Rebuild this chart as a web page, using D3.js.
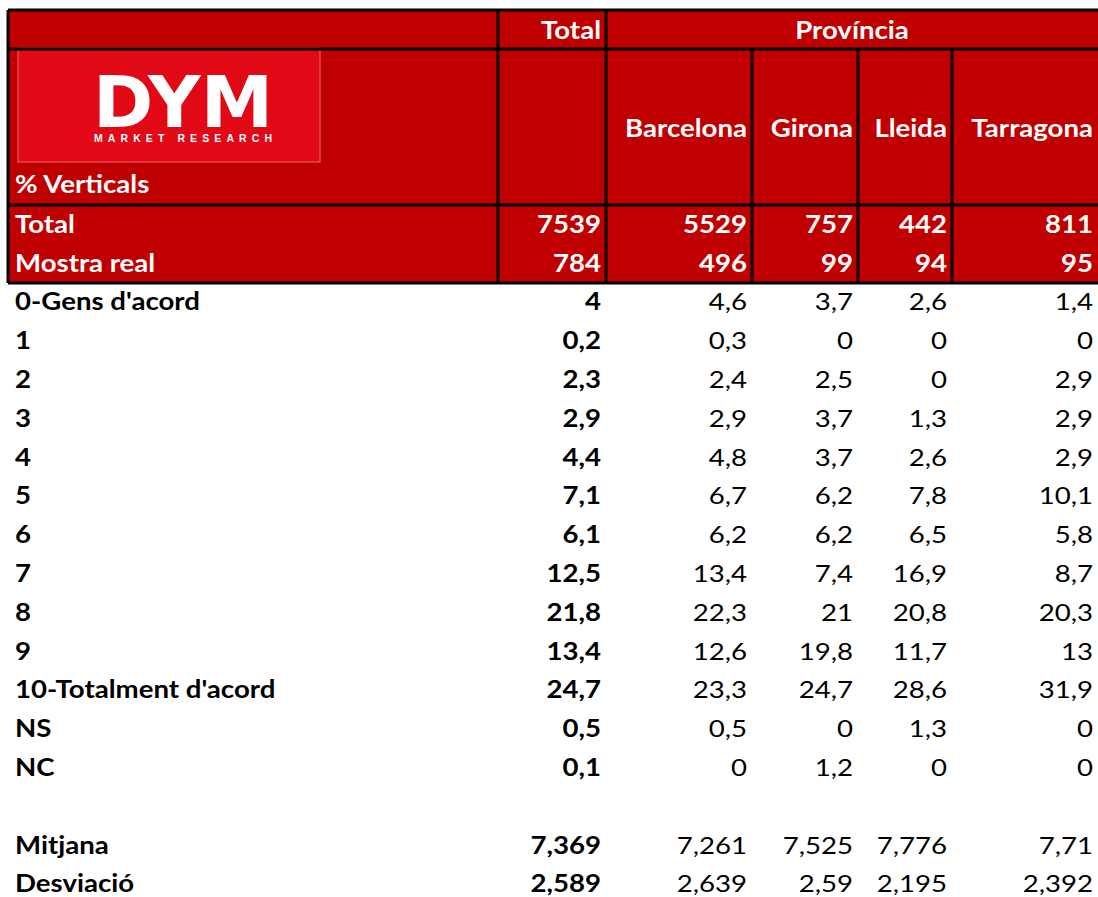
<!DOCTYPE html>
<html lang="ca">
<head>
  <meta charset="UTF-8">
  <title>% Verticals per Província</title>
  <script src="https://d3js.org/d3.v7.min.js"></script>
  <style>
    body { margin: 0; background: #fff; }
    text { font-family: Lato, "Open Sans", sans-serif; }
  </style>
</head>
<body>
  <div id="chart"></div>

  <script>
    const provinces = ["Barcelona", "Girona", "Lleida", "Tarragona"];
    const rowLabels = ["0-Gens d'acord", "1", "2", "3", "4", "5", "6", "7", "8", "9",
                       "10-Totalment d'acord", "NS", "NC", "", "Mitjana", "Desviació"];

    const universeTotal = [7539, 5529, 757, 442, 811];
    const sampleReal = [784, 496, 99, 94, 95];

    // columns: Total, Barcelona, Girona, Lleida, Tarragona
    const values = [
      [4, 4.6, 3.7, 2.6, 1.4],
      [0.2, 0.3, 0, 0, 0],
      [2.3, 2.4, 2.5, 0, 2.9],
      [2.9, 2.9, 3.7, 1.3, 2.9],
      [4.4, 4.8, 3.7, 2.6, 2.9],
      [7.1, 6.7, 6.2, 7.8, 10.1],
      [6.1, 6.2, 6.2, 6.5, 5.8],
      [12.5, 13.4, 7.4, 16.9, 8.7],
      [21.8, 22.3, 21, 20.8, 20.3],
      [13.4, 12.6, 19.8, 11.7, 13],
      [24.7, 23.3, 24.7, 28.6, 31.9],
      [0.5, 0.5, 0, 1.3, 0],
      [0.1, 0, 1.2, 0, 0],
      null,
      [7.369, 7.261, 7.525, 7.776, 7.71],
      [2.589, 2.639, 2.59, 2.195, 2.392]
    ];

    const W = 1098, H = 897;
    const red = "#c00000";
    const fmt = v => String(v).replace(".", ",");

    const svg = d3.select("#chart").append("svg")
      .attr("width", W).attr("height", H);

    // column edges
    const colKeys = ["label", "Total", ...provinces];
    const colEdges = [8, 498, 606, 752, 858, 952, 1098];
    const xLeft = d3.scaleOrdinal().domain(colKeys).range(colEdges.slice(0, -1));
    const xRight = d3.scaleOrdinal().domain(colKeys).range(colEdges.slice(1));

    // header rows
    const y0 = 10, h1 = 49, h2 = 205, h3 = 283;
    const redRows = d3.scaleBand().domain(["Total", "Mostra real"]).range([h2, h3]);
    const rows = d3.scaleBand().domain(d3.range(rowLabels.length)).range([h3, h3 + 16 * 38.8]);

    svg.append("rect").attr("x", 8).attr("y", y0).attr("width", W - 8).attr("height", h3 - y0)
      .attr("fill", red);

    // logo
    const logo = svg.append("g");
    logo.append("rect").attr("x", 18).attr("y", 48).attr("width", 302).attr("height", 114)
      .attr("fill", "#e10915").attr("stroke", "#e96a6a").attr("stroke-width", 1);
    logo.append("text").attr("x", 183).attr("y", 127).attr("text-anchor", "middle")
      .attr("fill", "#fff").attr("font-weight", 900)
      .attr("font-size", 72).attr("textLength", 180).attr("lengthAdjust", "spacingAndGlyphs")
      .style("font-family", "'DejaVu Sans'").text("DYM");
    logo.append("text").attr("x", 183).attr("y", 142).attr("text-anchor", "middle")
      .attr("fill", "#fff").attr("font-weight", 700).attr("font-size", 10.5)
      .attr("textLength", 178).attr("lengthAdjust", "spacing")
      .style("font-family", "'Liberation Sans'").text("MARKET RESEARCH");

    // cell text, slightly widened to mimic the original sheet font
    const cell = (g, x, y, t, anchor, color, weight) => g.append("text")
      .attr("transform", `translate(${x},${y}) scale(1.15,1)`)
      .attr("text-anchor", anchor).attr("fill", color).attr("font-weight", weight)
      .attr("font-size", 24).text(t);

    const head = svg.append("g");
    const white = (x, y, t, anchor) => cell(head, x, y, t, anchor, "#fff", 700);

    white(xRight("Total") - 5, 39, "Total", "end");
    white((xLeft("Barcelona") + W) / 2, 39, "Província", "middle");
    white(15, 193, "% Verticals", "start");
    provinces.forEach(p => white(xRight(p) - 5, 137, p, "end"));

    [["Total", universeTotal], ["Mostra real", sampleReal]].forEach(([name, vals]) => {
      const y = redRows(name) + redRows.bandwidth() / 2 + 8;
      white(15, y, name, "start");
      colKeys.slice(1).forEach((k, i) => white(xRight(k) - 5, y, vals[i], "end"));
    });

    // black rules
    const line = (x1, y1, x2, y2) => svg.append("line").attr("x1", x1).attr("y1", y1)
      .attr("x2", x2).attr("y2", y2).attr("stroke", "#000").attr("stroke-width", 3);
    line(8, y0, W, y0);
    line(8, h1, W, h1);
    line(8, h2, W, h2);
    line(8, h3, W, h3);
    line(8, y0, 8, h3);
    line(xLeft("Total"), y0, xLeft("Total"), h3);
    line(xLeft("Barcelona"), y0, xLeft("Barcelona"), h3);
    provinces.slice(1).forEach(p => line(xLeft(p), h1, xLeft(p), h3));

    // body
    const body = svg.append("g");
    rowLabels.forEach((lab, i) => {
      const y = rows(i) + rows.bandwidth() / 2 + 8;
      if (lab) cell(body, 15, y, lab, "start", "#000", 700);
      if (!values[i]) return;
      colKeys.slice(1).forEach((k, j) => {
        cell(body, xRight(k) - 5, y, fmt(values[i][j]), "end", "#000", j === 0 ? 700 : 400);
      });
    });
  </script>
</body>
</html>
